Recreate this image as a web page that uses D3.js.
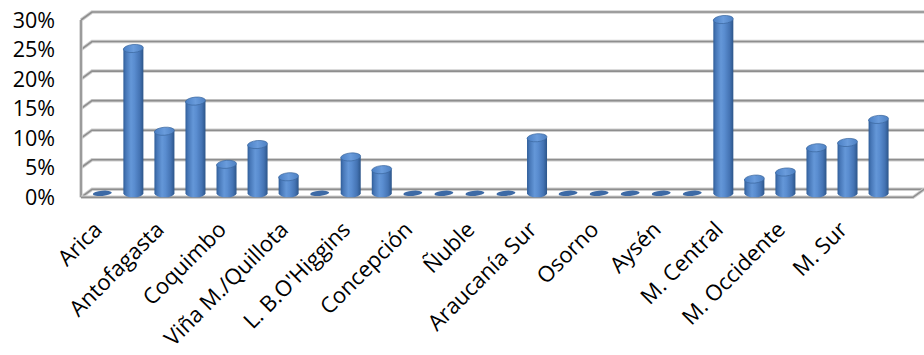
<!DOCTYPE html>
<html>
<head>
<meta charset="utf-8">
<script src="https://cdn.jsdelivr.net/npm/d3@7/dist/d3.min.js"></script>
<style>
  html, body { margin: 0; padding: 0; background: #fff; }
  svg { display: block; }
  text { font-family: "Open Sans", sans-serif; fill: #000; }
</style>
</head>
<body>
<svg id="chart" width="924" height="355"></svg>
<script>
// Servicios de salud (every other name is printed on the axis)
const categories = [
  "Arica", "Iquique", "Antofagasta", "Atacama", "Coquimbo", "Valparaíso",
  "Viña M./Quillota", "Aconcagua", "L. B.O'Higgins", "Maule", "Concepción",
  "Talcahuano", "Ñuble", "Biobío", "Araucanía Sur", "Valdivia", "Osorno",
  "Llanchipal", "Aysén", "Magallanes", "M. Central", "M. Norte",
  "M. Occidente", "M. Oriente", "M. Sur", "M. Sur Oriente"
];
// share per service, in percent
const values = [
  0, 24.5, 10.5, 15.6, 4.9, 8.25,
  2.8, 0, 6.15, 4.0, 0,
  0, 0, 0, 9.4, 0, 0,
  0, 0, 0, 29.4, 2.4,
  3.6, 7.7, 8.6, 12.5
];
const yTicks = [0, 5, 10, 15, 20, 25, 30];
const shownLabels = categories.filter((d, i) => i % 2 === 0);

const svg = d3.select("#chart");

// back wall geometry and depth offset of the 3-D box
const back = { left: 92, right: 926 };
const depth = { dx: -11, dy: 8 };
const yBack = d3.scaleLinear().domain([0, 30]).range([189.3, 12]);
const yFront = v => yBack(v) + depth.dy;
const yMid = v => yBack(v) + depth.dy / 2;

const x = d3.scalePoint().domain(categories).range([86.8, 894.1]).padding(0.5);
const barW = 20;

// ---- walls and gridlines
const grid = svg.append("g");
const gridColor = "#8e8e8e";
function strokeLine(d) {
  grid.append("path").attr("d", d).attr("fill", "none")
    .attr("stroke", "#cfcfcf").attr("stroke-width", 3.5);
  grid.append("path").attr("d", d).attr("fill", "none")
    .attr("stroke", gridColor).attr("stroke-width", 1.6);
}
yTicks.forEach(t => {
  const yb = yBack(t);
  strokeLine(`M${back.left + depth.dx},${yb + depth.dy}L${back.left},${yb}L${back.right},${yb}`);
});
// left wall front edge
strokeLine(`M${back.left + depth.dx},${yFront(30)}L${back.left + depth.dx},${yFront(0)}`);
// floor front edge and right side
strokeLine(`M${back.left + depth.dx},${yFront(0)}L${913},${yFront(0)}L${913 - depth.dx},${yBack(0)}`);

// ---- y axis labels (front plane)
svg.append("g").selectAll("text").data(yTicks).join("text")
  .attr("x", 55)
  .attr("y", d => yFront(d))
  .attr("dy", "0.36em")
  .attr("text-anchor", "end")
  .attr("font-size", 21.5)
  .text(d => d + "%");

// ---- cylinder shading
const defs = svg.append("defs");
const grad = defs.append("linearGradient").attr("id", "cyl")
  .attr("x1", "0%").attr("x2", "100%").attr("y1", "0%").attr("y2", "0%");
[["0%", "#2f5d98"], ["12%", "#4676b6"], ["38%", "#6497d8"], ["55%", "#5a8dd0"],
 ["82%", "#4473b3"], ["100%", "#2c5589"]].forEach(([o, c]) =>
  grad.append("stop").attr("offset", o).attr("stop-color", c));
const topGrad = defs.append("linearGradient").attr("id", "cylTop")
  .attr("x1", "0%").attr("x2", "100%");
[["0%", "#4a7fc4"], ["50%", "#6a9cdc"], ["100%", "#4d80c2"]].forEach(([o, c]) =>
  topGrad.append("stop").attr("offset", o).attr("stop-color", c));

const bars = svg.append("g").selectAll("g").data(categories.map((c, i) => ({ c, v: values[i] })))
  .join("g")
  .attr("transform", d => `translate(${x(d.c)},0)`);

const ry = 4;
bars.each(function (d) {
  const g = d3.select(this);
  const y0 = yMid(0);
  if (d.v === 0) {
    g.append("ellipse").attr("cx", 0).attr("cy", y0)
      .attr("rx", barW / 2 - 0.5).attr("ry", 2.6)
      .attr("transform", `rotate(-5,0,${y0})`)
      .attr("fill", "#3d6aa6");
    return;
  }
  const yt = yMid(d.v);
  // body with rounded bottom
  g.append("path")
    .attr("d", `M${-barW / 2},${yt}L${-barW / 2},${y0}A${barW / 2},${ry} 0 0 0 ${barW / 2},${y0}L${barW / 2},${yt}Z`)
    .attr("fill", "url(#cyl)");
  // top cap
  g.append("ellipse").attr("cx", 0).attr("cy", yt)
    .attr("rx", barW / 2).attr("ry", ry)
    .attr("transform", `rotate(-5,0,${yt})`)
    .attr("fill", "url(#cylTop)")
    .attr("stroke", "#3b679f").attr("stroke-width", 0.7);
});

// ---- category labels
svg.append("g").selectAll("text").data(shownLabels).join("text")
  .attr("transform", d => `translate(${x(d) + 1},${231}) rotate(-45)`)
  .attr("text-anchor", "end")
  .attr("font-size", 22)
  .text(d => d);
</script>
</body>
</html>
